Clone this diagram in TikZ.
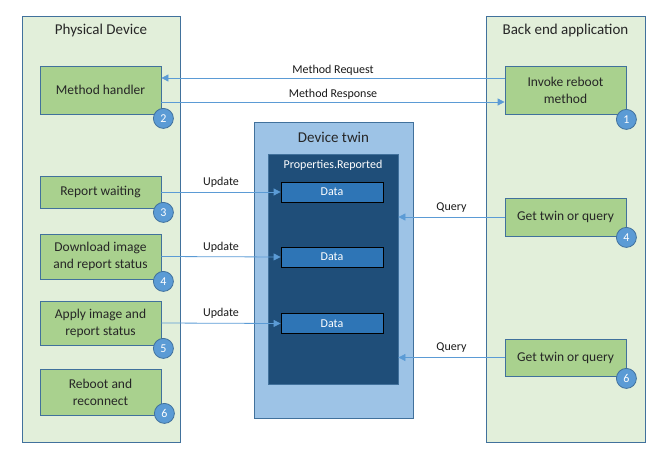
\documentclass[tikz,border=0pt]{standalone}
\usepackage{fontspec}
\setmainfont{Carlito}
\usetikzlibrary{arrows.meta}
\definecolor{panelfill}{HTML}{E2EFDA}
\definecolor{edgeblue}{HTML}{41719C}
\definecolor{boxgreen}{HTML}{A9D18E}
\definecolor{badgeblue}{HTML}{5B9BD5}
\definecolor{twinlight}{HTML}{9DC3E6}
\definecolor{twindark}{HTML}{1F4E79}
\definecolor{datablue}{HTML}{2E75B6}
\definecolor{arrowblue}{HTML}{5B9BD5}
\tikzset{
  panel/.style={draw=edgeblue,fill=panelfill,line width=0.8pt},
  title/.style={font=\fontsize{15}{18}\selectfont,text=black!85},
  task/.style={draw=edgeblue,fill=boxgreen,line width=0.8pt,minimum width=121pt,
    align=center,font=\fontsize{13.5}{17}\selectfont,text=black!85,inner sep=1pt},
  badge/.style={circle,draw=edgeblue,fill=badgeblue,line width=0.8pt,minimum size=20pt,
    inner sep=0pt,text=white,font=\fontsize{12}{12}\selectfont},
  databox/.style={draw=black,fill=datablue,line width=0.8pt,minimum width=102pt,
    minimum height=20pt,inner sep=0pt,text=white,font=\fontsize{12}{12}\selectfont},
  msg/.style={draw=arrowblue,line width=0.8pt,-{Triangle[length=7pt,width=7pt]}},
  msglabel/.style={font=\fontsize{12}{12}\selectfont,text=black!90}
}
\begin{document}
\begin{tikzpicture}[x=1pt,y=-1pt]
\useasboundingbox (0,0) rectangle (669,465);
% panels
\draw[panel] (22,16) rectangle (180,442);
\draw[panel] (486,16) rectangle (645,442);
\node[title] (physt) at (101,31) {Physical Device};
\node[title] (backt) at (565.5,31) {Back end application};
% device twin
\draw[draw=edgeblue,fill=twinlight,line width=0.8pt] (254,122) rectangle (413,418);
\node[title] (twint) at (333.5,137) {Device twin};
\node[draw=edgeblue,fill=twindark,line width=0.8pt,minimum width=130pt,minimum height=230pt,
  inner sep=0pt] (inner) at (333,269) {};
\node[text=white,font=\fontsize{12}{12}\selectfont] (props) at (333,165) {Properties.Reported};
\node[databox] (d1) at (332,192) {Data};
\node[databox] (d2) at (332,257) {Data};
\node[databox] (d3) at (332,323.5) {Data};
% device side
\node[task,minimum height=48pt] (mh) at (100.5,90) {Method handler};
\node[task,minimum height=32pt] (rw) at (100.5,192) {Report waiting};
\node[task,minimum height=45pt] (dl) at (100.5,256.5) {Download image\\and report status};
\node[task,minimum height=44pt] (ap) at (100.5,323) {Apply image and\\report status};
\node[task,minimum height=46pt] (rb) at (100.5,392) {Reboot and\\reconnect};
% back end side
\node[task,minimum height=48pt] (inv) at (565.5,90) {Invoke reboot\\method};
\node[task,minimum height=38pt] (gt1) at (565.5,217) {Get twin or query};
\node[task,minimum height=37pt] (gt2) at (565.5,357.5) {Get twin or query};
% badges
\node[badge] (b2) at ([shift={(2pt,-4pt)}]mh.south east) {2};
\node[badge] (b3) at ([shift={(2pt,-4pt)}]rw.south east) {3};
\node[badge] (b4) at ([shift={(2pt,-2pt)}]dl.south east) {4};
\node[badge] (b5) at ([shift={(2pt,-3pt)}]ap.south east) {5};
\node[badge] (b6) at ([shift={(3pt,2pt)}]rb.south east) {6};
\node[badge] (b1) at ([shift={(0pt,-5pt)}]inv.south east) {1};
\node[badge] (b4r) at ([shift={(0pt,-1pt)}]gt1.south east) {4};
\node[badge] (b6r) at ([shift={(0pt,-2pt)}]gt2.south east) {6};
% method call
\draw[msg] ([yshift=12pt]inv.west) -- ([yshift=12pt]mh.east)
  node[msglabel,midway,above=-1pt] {Method Request};
\draw[msg] ([yshift=-12pt]mh.east) -- ([yshift=-12pt]inv.west)
  node[msglabel,midway,above=-1pt] {Method Response};
% updates
\draw[msg] (rw.east) -- (d1.west) node[msglabel,midway,above=1pt] {Update};
\draw[msg] (dl.east) -- (d2.west) node[msglabel,midway,above=1pt] {Update};
\draw[msg] (ap.east) -- (d3.west) node[msglabel,midway,above=1pt] {Update};
% queries
\draw[msg] (gt1.west) -- (inner.east |- gt1.west) node[msglabel,midway,above=1pt] {Query};
\draw[msg] (gt2.west) -- (inner.east |- gt2.west) node[msglabel,midway,above=1pt] {Query};
\end{tikzpicture}
\end{document}
